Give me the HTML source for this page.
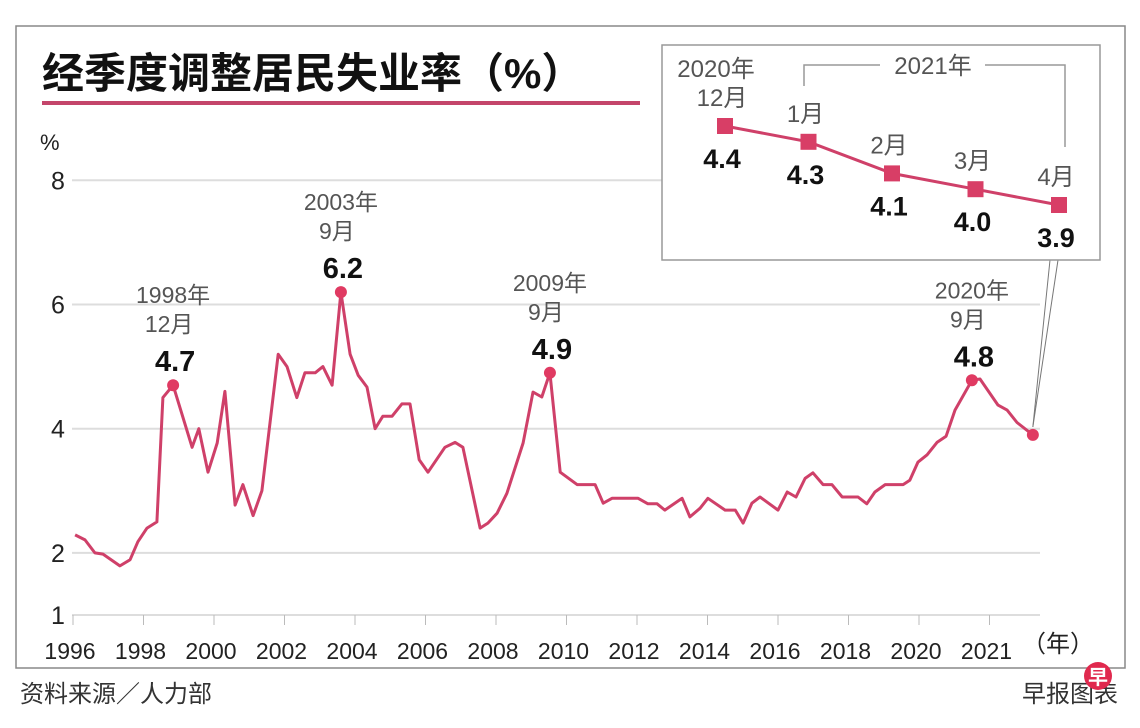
<!DOCTYPE html>
<html><head><meta charset="utf-8">
<style>
html,body{margin:0;padding:0;background:#fff;}
svg{display:block;font-family:"Liberation Sans","Noto Sans CJK SC",sans-serif;}
</style></head>
<body>
<svg id="c" width="1140" height="728" viewBox="0 0 1140 728">
<rect x="16" y="26" width="1109" height="642" fill="#fff" stroke="#888" stroke-width="1.5"/>
<text x="42" y="88" font-size="42" font-weight="bold" fill="#111">经季度调整居民失业率（%）</text>
<rect x="42" y="101" width="598" height="4" fill="#c4456b"/>
<text x="40" y="150" font-size="22" fill="#222">%</text>
<g id="grid"></g>
<g id="xaxis"></g>
<g id="series"></g>
<g id="inset"></g>
<text x="1022" y="652" font-size="24" fill="#222">（年）</text>
<text x="20" y="702" font-size="24" fill="#333">资料来源／人力部</text>
<text x="1118" y="702" font-size="24" fill="#333" text-anchor="end">早报图表</text>
<circle cx="1098" cy="676" r="14" fill="#e0294e"/>
<text x="1098" y="684" font-size="20" fill="#fff" text-anchor="middle" font-weight="bold">早</text>
</svg>
<script>
const yTicks=[1,2,4,6,8];
const xTickYears=[1996,1998,2000,2002,2004,2006,2008,2010,2012,2014,2016,2018,2020,2022];
const xTickLabels=["1996","1998","2000","2002","2004","2006","2008","2010","2012","2014","2016","2018","2020","2021"];
const dates=[1996.06,1996.34,1996.62,1996.85,1997.33,1997.62,1997.84,1998.10,1998.38,1998.55,1998.84,1999.38,1999.57,1999.83,2000.09,2000.31,2000.60,2000.82,2001.11,2001.36,2001.82,2002.07,2002.35,2002.58,2002.87,2003.09,2003.35,2003.60,2003.86,2004.09,2004.34,2004.57,2004.79,2005.05,2005.33,2005.56,2005.82,2006.07,2006.55,2006.84,2007.06,2007.55,2007.77,2008.03,2008.31,2008.77,2009.05,2009.30,2009.53,2009.82,2010.30,2010.81,2011.04,2011.29,2012.03,2012.31,2012.57,2012.79,2013.28,2013.50,2013.79,2014.01,2014.50,2014.79,2015.01,2015.26,2015.49,2016.00,2016.26,2016.51,2016.77,2016.99,2017.28,2017.53,2017.82,2018.27,2018.52,2018.75,2019.04,2019.55,2019.74,2019.97,2020.23,2020.51,2020.77,2021.02,2021.50,2021.73,2022.24,2022.50,2022.78,2023.23];
const rates=[2.29,2.21,2.0,1.98,1.79,1.89,2.18,2.4,2.5,4.5,4.7,3.7,4.0,3.3,3.77,4.6,2.77,3.1,2.6,3.0,5.2,5.0,4.5,4.9,4.9,5.0,4.7,6.2,5.2,4.86,4.67,4.0,4.2,4.2,4.4,4.4,3.5,3.3,3.7,3.78,3.7,2.4,2.48,2.64,2.96,3.77,4.59,4.51,4.9,3.3,3.1,3.1,2.8,2.88,2.88,2.79,2.79,2.69,2.88,2.58,2.72,2.88,2.69,2.69,2.48,2.8,2.9,2.69,2.98,2.9,3.2,3.29,3.1,3.1,2.9,2.9,2.79,2.98,3.1,3.1,3.17,3.46,3.58,3.78,3.88,4.3,4.78,4.8,4.38,4.3,4.1,3.9];
const peakIdx=[10,27,48,86];
const peakYear=["1998年","2003年","2009年","2020年"];
const peakMonth=["12月","9月","9月","9月"];
const peakVal=["4.7","6.2","4.9","4.8"];
const insetMonths=["12月","1月","2月","3月","4月"];
const insetRates=[4.4,4.3,4.1,4.0,3.9];

const NS="http://www.w3.org/2000/svg";
const X=t=>73+(t-1996)*35.25;
const Y=v=>615-(v-1)*62.1;
function mk(tag,attrs,parent,text){const e=document.createElementNS(NS,tag);for(const k in attrs)e.setAttribute(k,attrs[k]);if(text!==undefined)e.textContent=text;parent.appendChild(e);return e;}
const grid=document.getElementById('grid'),xa=document.getElementById('xaxis'),ser=document.getElementById('series'),ins=document.getElementById('inset');

yTicks.forEach(v=>{
  const l=mk('line',{x1:72,x2:1040,y1:Y(v),y2:Y(v),stroke:'#ddd','stroke-width':2},grid);
  
  
  const t=mk('text',{x:58,y:Y(v)+9,'font-size':25,fill:'#222','text-anchor':'middle'},grid,String(v));
  
  
});
xTickYears.forEach((yr,i)=>{
  const l=mk('line',{x1:X(yr),x2:X(yr),y1:615,y2:625,stroke:'#bbb','stroke-width':1},xa);
  
  
  const t=mk('text',{x:X(yr)-3,y:659,'font-size':23,fill:'#222','text-anchor':'middle',transform:'scale(1,1)'},xa,xTickLabels[i]);
  
  
});
const pts=dates.map((d,i)=>X(d).toFixed(1)+','+Y(rates[i]).toFixed(1)).join(' ');
const pl=mk('polyline',{points:pts,fill:'none',stroke:'#cf4069','stroke-width':3,'stroke-linejoin':'round'},ser);


peakIdx.forEach((idx,i)=>{
  const cx=X(dates[idx]),cy=Y(rates[idx]);
  const c=mk('circle',{cx:cx,cy:cy,r:6,fill:'#e03a62'},ser);
  
  
  const a=mk('text',{x:cx+2,y:cy-14,'font-size':29,'font-weight':'bold',fill:'#111','text-anchor':'middle'},ser,peakVal[i]);
  
  
  const b=mk('text',{x:cx-4,y:cy-53,'font-size':23,fill:'#555','text-anchor':'middle'},ser,peakMonth[i]);
  
  
  const d=mk('text',{x:cx,y:cy-82,'font-size':23,fill:'#555','text-anchor':'middle'},ser,peakYear[i]);
  
  
});
const last=dates.length-1;
const ec=mk('circle',{cx:X(dates[last]),cy:Y(rates[last]),r:6,fill:'#e03a62'},ser);


// callout lines
const cl1=mk('line',{x1:X(dates[last]),y1:Y(rates[last])-8,x2:1050,y2:260,stroke:'#777','stroke-width':1},ser);


const cl2=mk('line',{x1:X(dates[last]),y1:Y(rates[last])-8,x2:1058,y2:260,stroke:'#777','stroke-width':1},ser);



// inset
const box=mk('rect',{x:662,y:45,width:438,height:215,fill:'#fff',stroke:'#999','stroke-width':1.5},ins);


const IX=i=>725+i*83.5;
const IY=v=>126+(4.4-v)*158;
const br=mk('polyline',{points:'804,86 804,65 880,65 M',fill:'none',stroke:'#999','stroke-width':1.5},ins);
br.setAttribute('points','804,86 804,65 880,65');


const br2=mk('polyline',{points:'985,65 1065,65 1065,147',fill:'none',stroke:'#999','stroke-width':1.5},ins);


const yl=mk('text',{x:933,y:74,'font-size':24,fill:'#555','text-anchor':'middle'},ins,'2021年');


const y0=mk('text',{x:716,y:77,'font-size':24,fill:'#555','text-anchor':'middle'},ins,'2020年');


const ipts=insetRates.map((v,i)=>IX(i)+','+IY(v)).join(' ');
const ipl=mk('polyline',{points:ipts,fill:'none',stroke:'#cf4069','stroke-width':3},ins);


insetRates.forEach((v,i)=>{
  const cx=IX(i),cy=IY(v);
  const r=mk('rect',{x:cx-8,y:cy-8,width:16,height:16,fill:'#d83e66'},ins);
  
  
  const m=mk('text',{x:cx-3,y:cy-20,'font-size':24,fill:'#555','text-anchor':'middle'},ins,insetMonths[i]);
  
  
  const t=mk('text',{x:cx-3,y:cy+42,'font-size':27,'font-weight':'bold',fill:'#111','text-anchor':'middle'},ins,v.toFixed(1));
  
  
});
</script>
</body></html>
